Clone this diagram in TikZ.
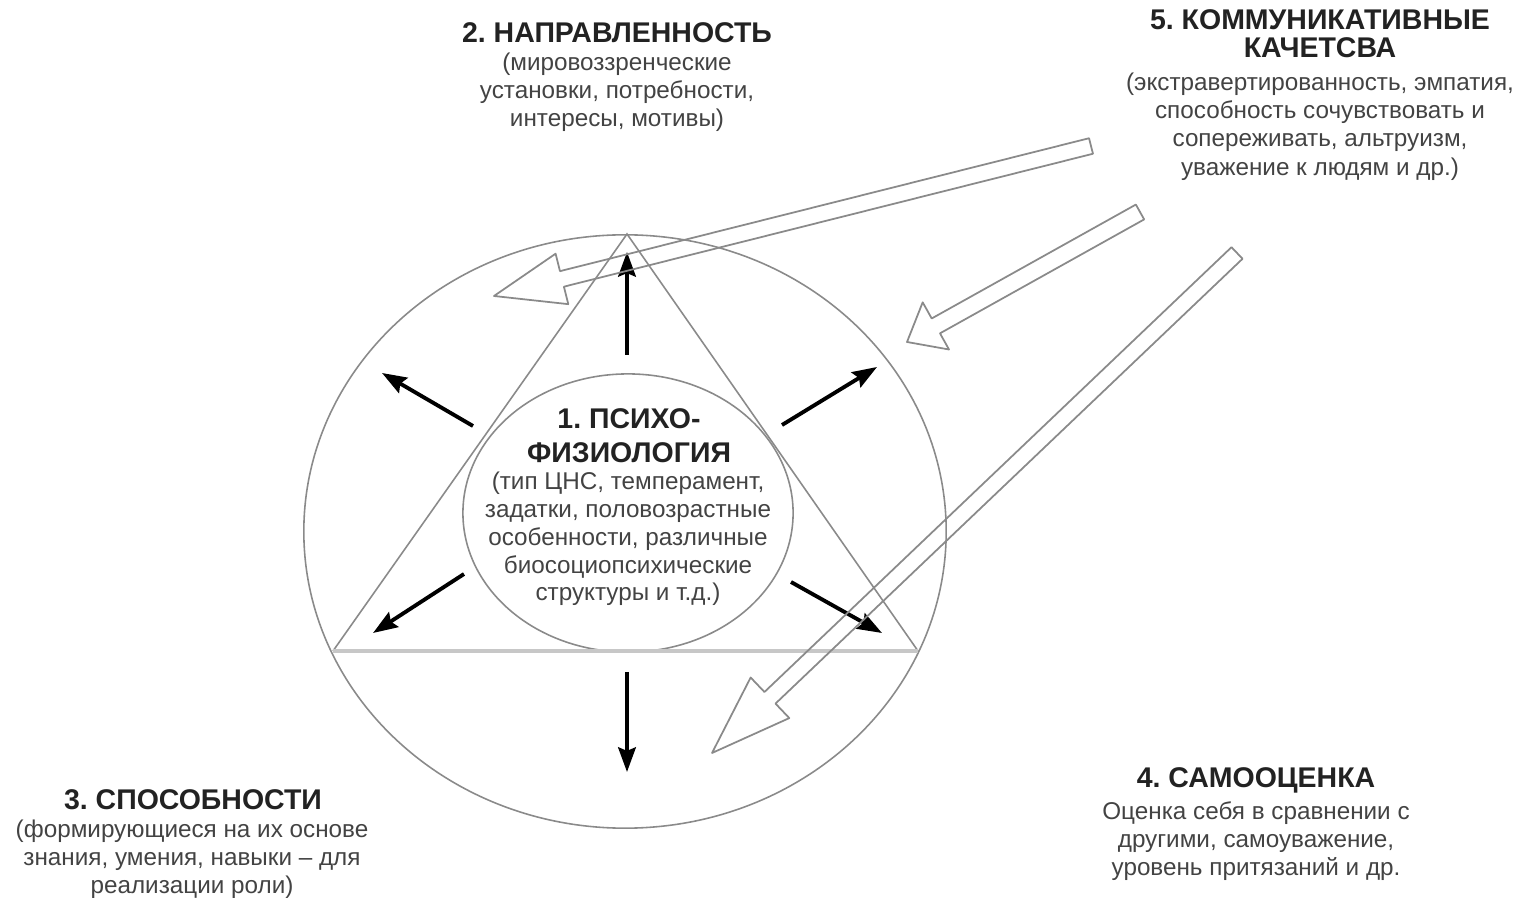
\documentclass[tikz,border=0pt]{standalone}
\usepackage{fontspec}
\setmainfont{Liberation Sans}
\usepackage{xcolor}
\usetikzlibrary{arrows.meta, positioning, calc, shapes.geometric}
\definecolor{ink}{HTML}{222222}
\definecolor{lead}{HTML}{8A8A8A}
\frenchspacing

% hollow arrow: tail, tip, half shaft, half head, head length
\newcommand{\hollowarrow}[5]{%
  \coordinate (hb) at ($(#2)!#5!(#1)$);
  \draw[hollow] ($(#1)!#3!90:(#2)$) -- ($(hb)!#3!90:(#2)$) -- ($(hb)!#4!90:(#2)$) -- (#2)
    -- ($(hb)!#4!-90:(#2)$) -- ($(hb)!#3!-90:(#2)$) -- ($(#1)!#3!-90:(#2)$) -- cycle;}

\begin{document}
\begin{tikzpicture}[x=0.01cm, y=-0.01cm,
    title/.style={font=\bfseries\fontsize{8.1}{8.1}\selectfont, text=ink, align=center, inner sep=0pt},
    note/.style={font=\fontsize{6.9}{7.9}\selectfont, text=ink!85, align=center, inner sep=0pt},
    hollow/.style={draw=lead, line width=0.5pt, line join=round},
    ray/.style={-{Stealth[length=7pt, width=5pt, inset=1pt]}, line width=1.1pt, black}]
    \useasboundingbox (0,0) rectangle (1519,898);
    % Circles and triangle
    \node[ellipse, draw=lead, line width=0.45pt, minimum width=6.42cm, minimum height=5.93cm, inner sep=0pt] (outer) at (625,531.5) {};
    \node[ellipse, draw=lead, line width=0.45pt, minimum width=3.30cm, minimum height=2.78cm, inner sep=0pt] (core) at (628,513) {};
    \coordinate (apex) at (627,234);
    \coordinate (bl) at (333,651);
    \coordinate (br) at (918,651);
    \draw[lead, line width=0.45pt] (bl) -- (apex) -- (br);
    \draw[black!22, line width=0.9pt] (bl) -- (br);
    % Rays from the core
    \coordinate (u0) at (627,355);  \coordinate (u1) at (627,252);
    \coordinate (d0) at (627,672);  \coordinate (d1) at (627,772);
    \coordinate (ul0) at (473,426); \coordinate (ul1) at (382,373);
    \coordinate (ur0) at (782,425); \coordinate (ur1) at (877,367);
    \coordinate (dl0) at (464,574); \coordinate (dl1) at (373,633);
    \coordinate (dr0) at (791,582); \coordinate (dr1) at (882,633);
    \foreach \r in {u,d,ul,ur,dl,dr}
        \draw[ray] (\r0) -- (\r1);
    % Labels
    \node[title] (napr) at (617,33) {2. НАПРАВЛЕННОСТЬ};
    \node[note] (naprtxt) at (617,92.5) {(мировоззренческие\\установки, потребности,\\интересы, мотивы)};
    \node[title, font=\bfseries\fontsize{8.1}{8}\selectfont] (komm) at (1320,34) {5. КОММУНИКАТИВНЫЕ\\КАЧЕТСВА};
    \node[note, font=\fontsize{6.9}{8.05}\selectfont] (kommtxt) at (1320,126.5) {(экстравертированность, эмпатия,\\способность сочувствовать и\\сопереживать, альтруизм,\\уважение к людям и др.)};
    \node[title, font=\bfseries\fontsize{8.1}{9.7}\selectfont] (psy) at (629,436) {1. ПСИХО-\\ФИЗИОЛОГИЯ};
    \node[note] (psytxt) at (628,539) {(тип ЦНС, темперамент,\\задатки, половозрастные\\особенности, различные\\биосоциопсихические\\структуры и т.д.)};
    \node[title] (spos) at (193,800) {3. СПОСОБНОСТИ};
    \node[note] (spostxt) at (192,859.5) {(формирующиеся на их основе\\знания, умения, навыки – для\\реализации роли)};
    \node[title] (samo) at (1256,780) {4. САМООЦЕНКА};
    \node[note] (samotxt) at (1256,841) {Оценка себя в сравнении с\\другими, самоуважение,\\уровень притязаний и др.};
    % Hollow arrows from 5
    \coordinate (t1) at (1091,146); \coordinate (h1) at (494,296);
    \coordinate (t2) at (1140,212); \coordinate (h2) at (907,342);
    \coordinate (t3) at (1237,253); \coordinate (h3) at (712,753);
    \hollowarrow{t1}{h1}{0.08cm}{0.26cm}{0.70cm}
    \hollowarrow{t2}{h2}{0.085cm}{0.27cm}{0.33cm}
    \hollowarrow{t3}{h3}{0.08cm}{0.28cm}{0.80cm}
\end{tikzpicture}
\end{document}
